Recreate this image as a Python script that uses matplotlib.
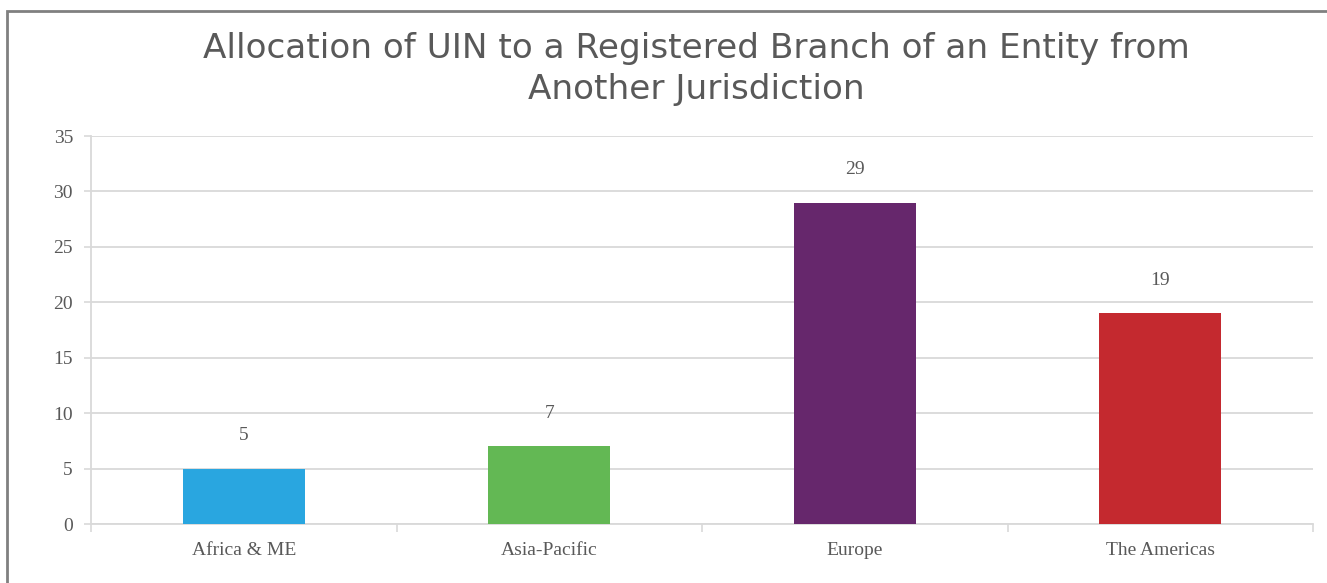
import matplotlib.pyplot as plt
from matplotlib.patches import Rectangle

categories = ["Africa & ME", "Asia-Pacific", "Europe", "The Americas"]
values = [5, 7, 29, 19]
colors = ["#29a6e0", "#63b854", "#66276c", "#c4292f"]
yticks = [0, 5, 10, 15, 20, 25, 30, 35]

TEXT = "#595959"
GRID = "#d9d9d9"

fig = plt.figure(figsize=(13.27, 5.83), dpi=100)
ax = fig.add_axes([0.0686, 0.1012, 0.9209, 0.6655])

x = range(len(categories))
ax.bar(x, values, width=0.4, color=colors, zorder=3)
for xi, v in zip(x, values):
    ax.text(xi, v + 3.0, str(v), ha="center", va="center",
            family="Liberation Serif", fontsize=14, color=TEXT)

ax.set_xlim(-0.5, len(categories) - 0.5)
ax.set_ylim(0, 35)
ax.set_yticks(yticks)
ax.set_xticks([i - 0.5 for i in range(len(categories) + 1)], minor=False)
ax.set_xticklabels([])
ax.set_xticks(list(x), minor=True)
ax.set_xticklabels(categories, minor=True)
ax.tick_params(axis="x", which="major", length=6, color=GRID, width=1.2, direction="out")
ax.tick_params(axis="x", which="minor", length=0, pad=13)
ax.tick_params(axis="y", length=5, color=GRID, width=1.2, pad=8)
for lab in ax.get_xticklabels(minor=True) + ax.get_yticklabels():
    lab.set_family("Liberation Serif")
    lab.set_fontsize(14)
    lab.set_color(TEXT)

ax.grid(axis="y", color=GRID, linewidth=1.3, zorder=0)
for s in ["top", "right"]:
    ax.spines[s].set_visible(False)
for s in ["left", "bottom"]:
    ax.spines[s].set_color(GRID)
    ax.spines[s].set_linewidth(1.3)

fig.text(0.525, 0.882, "Allocation of UIN to a Registered Branch of an Entity from\nAnother Jurisdiction",
         ha="center", va="center", fontsize=24.7, color=TEXT, linespacing=1.31,
         family="DejaVu Sans")

fig.patches.append(Rectangle((7 / 1327, -0.1), 1.2, 1 - 11 / 583 + 0.1,
                             transform=fig.transFigure, fill=False,
                             edgecolor="#808080", linewidth=2))

fig.savefig("out.png", dpi=100)
